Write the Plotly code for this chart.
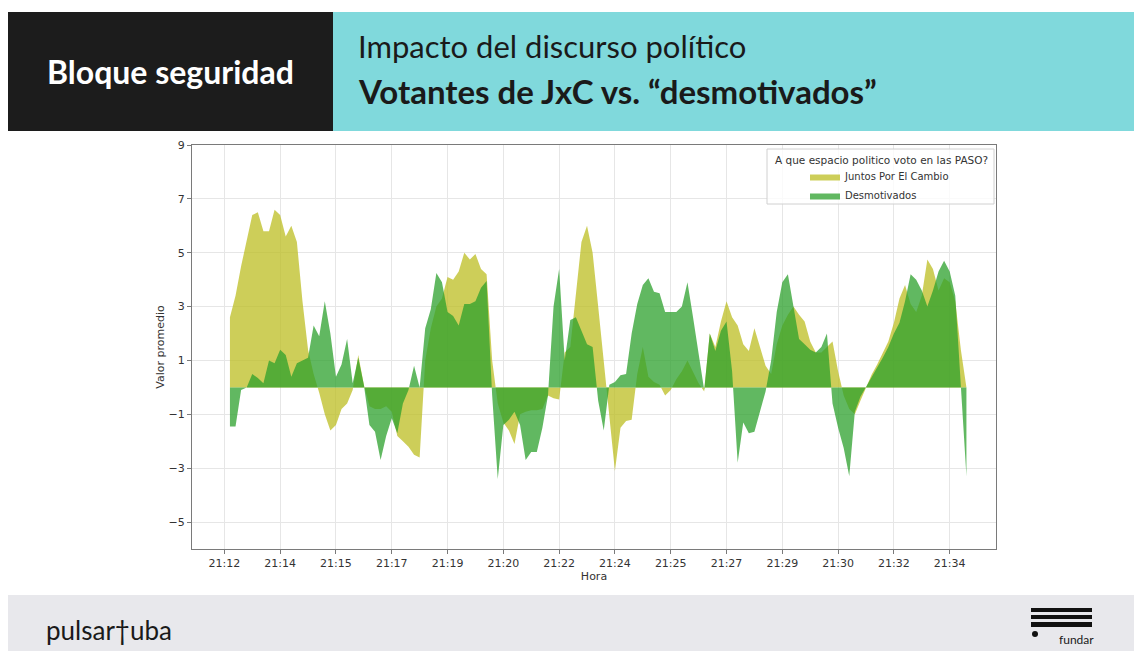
import plotly.graph_objects as go

# tick labels on the time axis (one every 10 samples)
horas = ["21:12", "21:14", "21:15", "21:17", "21:19", "21:20", "21:22",
         "21:24", "21:25", "21:27", "21:29", "21:30", "21:32", "21:34"]
tick_pos = [0, 10, 20, 30, 40, 50, 60, 70, 80, 90, 100, 110, 120, 130]

# sample index along the speech
muestra = list(range(1, 134))

# Juntos Por El Cambio
jxc = [2.6, 3.4, 4.5, 5.5, 6.4, 6.5, 5.8, 5.8, 6.6, 6.4,
       5.6, 6.0, 5.4, 3.2, 1.4, 0.5, -0.2, -1.0, -1.6, -1.4,
       -0.8, -0.6, -0.1, 1.2, 0.1, -0.7, -0.8, -0.8, -0.7, -0.9,
       -1.8, -2.0, -2.2, -2.5, -2.6, 1.0, 2.2, 3.0, 3.3, 4.1,
       4.0, 4.3, 5.0, 4.75, 4.95, 4.4, 4.2, 1.0, -0.6, -1.3,
       -1.6, -2.1, -1.0, -0.9, -0.85, -0.85, -0.8, -0.3, -0.4, -0.45,
       1.3, 1.5, 3.5, 5.4, 6.0, 5.0, 3.0, 1.0, -1.2, -3.1,
       -1.5, -1.25, -1.2, 0.5, 1.5, 0.4, 0.2, 0.1, -0.3, -0.1,
       0.3, 0.6, 1.0, 0.6, 0.15, -0.15, 2.0, 1.5, 2.45, 3.2,
       2.6, 2.3, 1.6, 1.35, 2.2, 1.5, 0.8, 0.5, 1.6, 2.3,
       2.7, 3.0, 2.7, 2.45, 1.7, 1.3, 1.3, 1.5, 1.7, 0.6,
       -0.3, -0.8, -1.0, -0.5, 0.0, 0.47, 0.85, 1.25, 1.7, 2.4,
       3.3, 3.8, 3.1, 2.8, 3.4, 4.75, 4.4, 3.6, 4.05, 3.9,
       3.2, 1.4, 0.0]

# Desmotivados
desmotivados = [-1.45, -1.45, -0.1, 0.0, 0.5, 0.35, 0.15, 1.0, 0.9, 1.4,
                1.2, 0.4, 0.9, 1.0, 1.1, 2.3, 1.9, 3.2, 2.0, 0.4,
                0.85, 1.8, 0.15, 1.1, 0.1, -1.4, -1.65, -2.7, -1.8, -1.15,
                -1.7, -0.6, -0.1, 0.8, 0.0, 2.2, 2.9, 4.25, 3.9, 2.8,
                2.65, 2.3, 3.1, 3.1, 3.2, 3.7, 3.95, -0.3, -3.4, -1.4,
                -1.2, -0.9, -1.4, -2.7, -2.4, -2.4, -1.5, -0.3, 3.0, 4.4,
                1.0, 2.5, 2.6, 2.1, 1.6, 1.5, -0.5, -1.6, 0.1, 0.2,
                0.45, 0.5, 2.0, 3.1, 3.8, 4.05, 3.55, 3.5, 2.8, 2.8,
                2.8, 3.0, 3.9, 2.6, 1.2, -0.1, 2.0, 1.35, 2.1, 2.45,
                0.6, -2.8, -1.3, -1.7, -1.65, -0.9, -0.15, 1.0, 2.8, 3.9,
                4.2, 3.0, 1.8, 1.6, 1.4, 1.3, 1.5, 2.0, -0.6, -1.5,
                -2.25, -3.3, -0.9, -0.35, 0.0, 0.35, 0.75, 1.1, 1.5, 2.0,
                2.4, 3.2, 4.2, 4.0, 3.6, 3.0, 3.6, 4.3, 4.7, 4.3,
                3.4, 0.2, -3.3]

W, H = 1142, 651
OFF = 8  # page body margin
# plot area in page pixels
L, R, T, B = 192, 996, 145, 549


def px(x):
    return (x - L) / (R - L)


def py(y):
    return (B - y) / (B - T)


def note(text, x, y, size, color="#1a1a1a", family="Lato", xanchor="center"):
    return dict(text=text, x=px(x), y=py(y), xref="paper", yref="paper",
                xanchor=xanchor, yanchor="middle", showarrow=False,
                font=dict(family=family, size=size, color=color))


def box(x0, y0, x1, y1, color, **kw):
    return dict(type="rect", xref="paper", yref="paper", x0=px(x0), x1=px(x1),
                y0=py(y1), y1=py(y0), fillcolor=color, line=dict(width=0), **kw)


fig = go.Figure()
fig.add_trace(go.Scatter(x=muestra, y=jxc, name="Juntos Por El Cambio", mode="lines",
                         line=dict(width=0, color="rgba(188,189,34,0.75)"),
                         fill="tozeroy", fillcolor="rgba(188,189,34,0.75)"))
fig.add_trace(go.Scatter(x=muestra, y=desmotivados, name="Desmotivados", mode="lines",
                         line=dict(width=0, color="rgba(44,160,44,0.75)"),
                         fill="tozeroy", fillcolor="rgba(44,160,44,0.75)"))

axis_font = dict(family="DejaVu Sans", size=11, color="#333")
fig.update_xaxes(range=[-5.8, 138.3], tickvals=tick_pos, ticktext=horas,
                 showgrid=True, gridcolor="#e6e6e6", zeroline=False,
                 showline=True, mirror=True, linecolor="#7a7a7a", linewidth=1.2,
                 ticks="outside", ticklen=4, tickcolor="#7a7a7a", tickfont=axis_font,
                 title=dict(text="Hora", font=axis_font, standoff=3))
fig.update_yaxes(range=[-6, 9], tickvals=[-5, -3, -1, 1, 3, 5, 7, 9],
                 showgrid=True, gridcolor="#e6e6e6", zeroline=False,
                 showline=True, mirror=True, linecolor="#7a7a7a", linewidth=1.2,
                 ticks="outside", ticklen=4, tickcolor="#7a7a7a", tickfont=axis_font,
                 title=dict(text="Valor promedio", font=axis_font, standoff=1))

shapes = [
    # header
    box(6, 12, 333, 131, "#1c1c1c", layer="below"),
    box(333, 12, W + OFF, 131, "#80d9dc", layer="below"),
    # footer
    box(6, 595, W + OFF, H + OFF, "#e8e8ec", layer="below"),
    # fundar logo
    box(1031, 608, 1092, 612, "#111"),
    box(1031, 615, 1092, 619, "#111"),
    box(1031, 622, 1092, 627, "#111"),
    dict(type="circle", xref="paper", yref="paper", x0=px(1032), x1=px(1038),
         y0=py(637), y1=py(631), fillcolor="#111", line=dict(width=0)),
    # legend frame
    dict(type="rect", xref="paper", yref="paper", x0=px(767), x1=px(994), y0=py(204), y1=py(149),
         fillcolor="rgba(255,255,255,0.8)", line=dict(width=1, color="#d0d0d0"), layer="above"),
]

annotations = [
    note("<b>Bloque seguridad</b>", 170, 71, 32, color="white"),
    note("Impacto del discurso político", 356, 46, 31, xanchor="left"),
    note("<b>Votantes de JxC vs. “desmotivados”</b>", 356, 91, 33, xanchor="left"),
    note("pulsar†uba", 44, 630, 26, xanchor="left"),
    note("fundar", 1076, 639, 12),
    note("A que espacio politico voto en las PASO?", 881, 160, 10.5, color="#333", family="DejaVu Sans"),
]

fig.update_layout(
    width=W, height=H,
    margin=dict(l=L - OFF, r=W - (R - OFF), t=T - OFF, b=H - (B - OFF)),
    paper_bgcolor="white", plot_bgcolor="white",
    shapes=shapes, annotations=annotations,
    showlegend=True,
    legend=dict(x=px(805), y=py(162), xanchor="left", yanchor="top",
                bgcolor="rgba(0,0,0,0)", font=dict(family="DejaVu Sans", size=10, color="#333"),
                tracegroupgap=0, itemwidth=30),
)

fig.write_html("out.html")
